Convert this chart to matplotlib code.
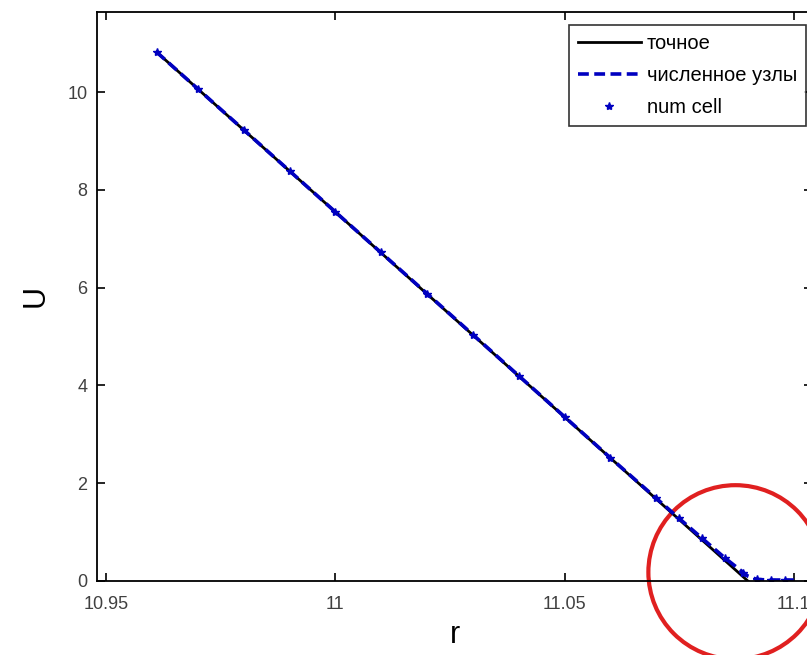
import numpy as np
import matplotlib.pyplot as plt
from matplotlib.patches import Ellipse

plt.rcParams['font.family'] = ['Liberation Sans', 'DejaVu Sans']

# exact solution (straight line)
r_exact = [10.961, 11.090]
u_exact = [10.82, 0.0]

# numerical solution at nodes
r_nodes = [10.961, 10.98, 11.0, 11.02, 11.04, 11.06, 11.075, 11.085, 11.090, 11.092, 11.095, 11.1]
u_nodes = [10.82, 9.23, 7.55, 5.88, 4.20, 2.52, 1.28, 0.47, 0.10, 0.03, 0.02, 0.02]

# numerical solution in cells
r_cell = [10.961, 10.97, 10.98, 10.99, 11.0, 11.01, 11.02, 11.03, 11.04, 11.05, 11.06,
          11.07, 11.075, 11.08, 11.085, 11.089, 11.092, 11.095, 11.098]
u_cell = [10.82, 10.06, 9.23, 8.39, 7.55, 6.72, 5.88, 5.04, 4.20, 3.36, 2.52,
          1.69, 1.28, 0.88, 0.47, 0.17, 0.04, 0.03, 0.03]

fig = plt.figure(figsize=(8.07, 6.55), dpi=100)
ax = fig.add_axes([0.1202, 0.113, 0.886, 0.8687])

ax.plot(r_exact, u_exact, color='black', lw=2, label='точное')
ax.plot(r_nodes, u_nodes, color='#0000c0', lw=2.6, ls='--', dashes=(3, 1.5),
        label='численное узлы')
ax.plot(r_cell, u_cell, color='#0000c0', ls='none', marker='*', ms=6, label='num cell')

ax.set_xlim(10.948, 11.104)
ax.set_ylim(0, 11.64)
ax.set_xticks([10.95, 11, 11.05, 11.1])
ax.set_xticklabels(['10.95', '11', '11.05', '11.1'])
ax.set_yticks([0, 2, 4, 6, 8, 10])
ax.tick_params(direction='in', length=6, width=1.2, top=True, right=True,
               labelsize=13, labelcolor='#404040')
ax.tick_params(axis='x', pad=11)
ax.tick_params(axis='y', pad=7)
for s in ax.spines.values():
    s.set_linewidth(1.3)

ax.set_xlabel('r', fontsize=22, labelpad=5)
ax.set_ylabel('U', fontsize=22, labelpad=12)

leg = ax.legend(loc='upper right', bbox_to_anchor=(0.9916, 0.977), fontsize=14.5,
                handlelength=3.1, frameon=True, fancybox=False, edgecolor='black',
                borderpad=0.45, labelspacing=0.65, handletextpad=0.3, borderaxespad=0)
leg.get_frame().set_linewidth(1.2)

# red circle highlighting the region near the end of the profile
circ = Ellipse((11.0873, 0.18), width=0.038, height=3.56, fill=False,
               edgecolor='#e02020', lw=3, clip_on=False)
ax.add_patch(circ)

fig.savefig('out.png', dpi=100)
